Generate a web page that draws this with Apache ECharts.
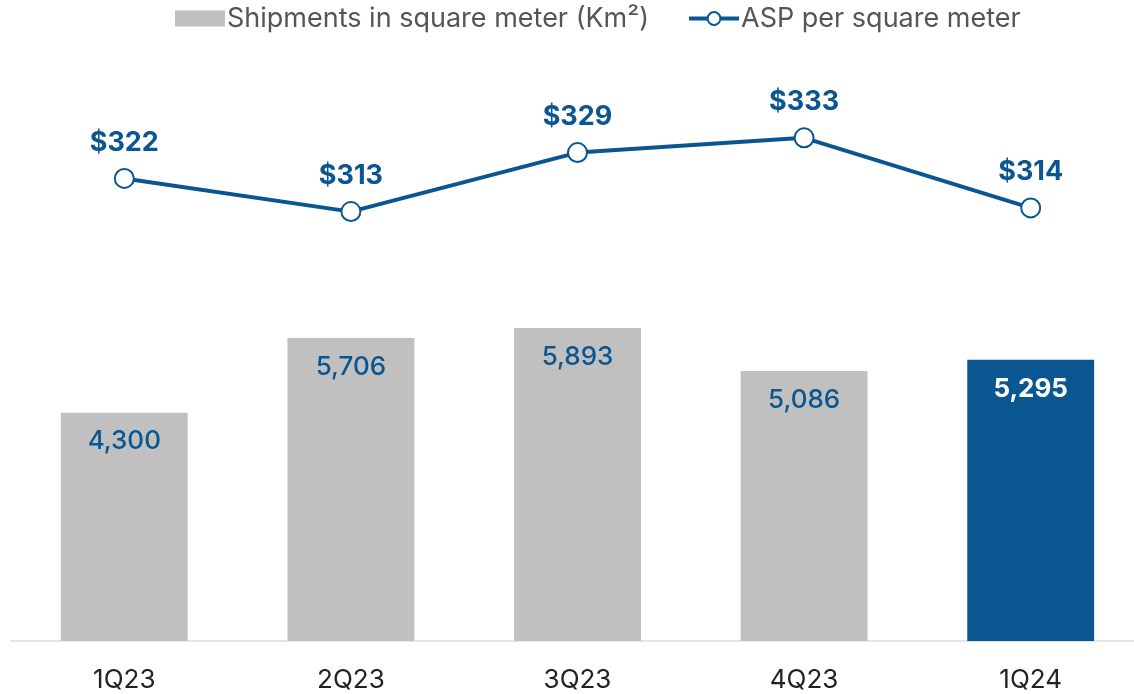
<!DOCTYPE html>
<html>
<head>
<meta charset="utf-8">
<script src="https://cdn.jsdelivr.net/npm/echarts@6/dist/echarts.min.js"></script>
<style>
html, body { margin: 0; padding: 0; background: #fff; overflow: hidden; }
#container { width: 1134px; height: 694px; }
</style>
</head>
<body>
<div id="container"></div>
<script>
var quarters = ['1Q23', '2Q23', '3Q23', '4Q23', '1Q24'];
var shipments = [4300, 5706, 5893, 5086, 5295];
var asp = [322, 313, 329, 333, 314];

var grey = '#c0c0c0';
var blue = '#0a5690';

var dom = document.getElementById('container');
var myChart = echarts.init(dom);

var barData = shipments.map(function (v, i) {
    var last = i === shipments.length - 1;
    return {
        value: v,
        itemStyle: { color: last ? blue : grey },
        label: { color: last ? '#fff' : blue, fontWeight: last ? 'bold' : 500 }
    };
});

var option = {
    backgroundColor: '#fff',
    textStyle: { fontFamily: 'Inter, "Open Sans", sans-serif' },
    legend: {
        top: 0,
        left: 170,
        itemGap: 38,
        itemWidth: 50,
        itemHeight: 16,
        textStyle: { fontSize: 27, color: '#555', padding: [0, 0, 0, -3] },
        data: [
            { name: 'Shipments in square meter (Km²)', icon: 'rect' },
            {
                name: 'ASP per square meter',
                lineStyle: { width: 4 },
                itemStyle: { borderWidth: 4 }
            }
        ]
    },
    grid: { left: 11, right: -10, top: 60, bottom: 53, containLabel: false, outerBoundsMode: 'none' },
    xAxis: {
        type: 'category',
        data: quarters,
        axisLine: { lineStyle: { color: '#dddddd', width: 1.5 } },
        axisTick: { show: false },
        axisLabel: { fontSize: 26, color: '#222', margin: 26 }
    },
    yAxis: [
        { type: 'value', min: 0, max: 10940, show: false, splitLine: { show: false } },
        { type: 'value', min: 196.6, max: 354.1, show: false, splitLine: { show: false } }
    ],
    series: [
        {
            name: 'Shipments in square meter (Km²)',
            type: 'bar',
            barWidth: '56%',
            itemStyle: { color: grey },
            label: {
                show: true,
                position: 'insideTop',
                distance: 16,
                fontSize: 26,
                formatter: function (p) { return p.value.toLocaleString('en-US'); }
            },
            data: barData
        },
        {
            name: 'ASP per square meter',
            type: 'line',
            yAxisIndex: 1,
            symbol: 'emptyCircle',
            symbolSize: 19,
            lineStyle: { color: blue, width: 4 },
            itemStyle: { color: blue, borderColor: blue, borderWidth: 4 },
            label: {
                show: true,
                position: 'top',
                distance: 12,
                fontSize: 27,
                fontWeight: 'bold',
                color: blue,
                formatter: function (p) { return '$' + p.value; }
            },
            data: asp
        }
    ]
};

myChart.setOption(option, true);
</script>
</body>
</html>
